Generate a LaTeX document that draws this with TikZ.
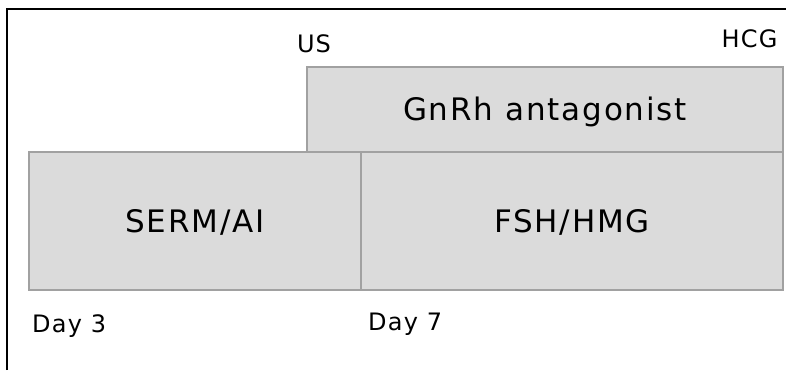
\documentclass[tikz,border=0pt]{standalone}
\usepackage{fontspec}
\setmainfont{DejaVu Sans}
\newfontfamily\bigfont[LetterSpace=6]{DejaVu Sans}
\newfontfamily\smallfont[LetterSpace=5]{DejaVu Sans}
\begin{document}
\begin{tikzpicture}[x=1pt,y=-1pt,
  phase/.style={draw=black!37,fill=black!14,line width=1.3pt,inner sep=0pt,
    text height=22pt,text depth=0pt,
    font=\bigfont\fontsize{31}{37}\selectfont},
  lbl/.style={inner sep=0pt,anchor=base,font=\smallfont\fontsize{24}{29}\selectfont}]
\useasboundingbox (0,0) rectangle (786,370);
\fill[white] (0,0) rectangle (786,370);
\draw[line width=2pt] (7,370) -- (7,9) -- (786,9);
\node[phase,minimum width=476pt,minimum height=85pt] (gnrh) at (545,109.5) {GnRh antagonist};
\node[phase,minimum width=332pt,minimum height=138pt] (serm) at (195,221) {SERM/AI};
\node[phase,minimum width=422pt,minimum height=138pt] (fsh) at (572,221) {FSH/HMG};
\node[lbl] (us) at (314,52) {US};
\node[lbl] (hcg) at (749.5,47) {HCG};
\node[lbl,anchor=base west] (d3) at (32,332) {Day 3};
\node[lbl,anchor=base west] (d7) at (368,330) {Day 7};
\end{tikzpicture}
\end{document}
